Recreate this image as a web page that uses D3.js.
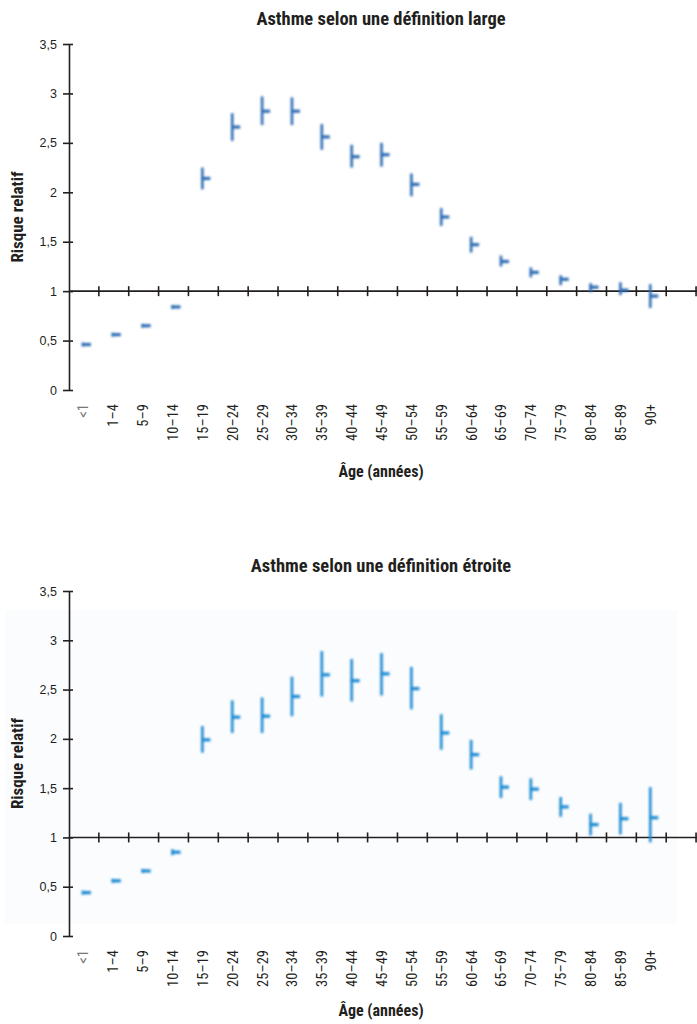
<!DOCTYPE html>
<html>
<head>
<meta charset="utf-8">
<script src="https://cdn.jsdelivr.net/npm/d3@7"></script>
<style>
  body { margin: 0; background: #fff; }
  svg { display: block; font-family: "Liberation Sans Narrow", "Arial Narrow", "Roboto Condensed", sans-serif; }
</style>
</head>
<body>
<svg id="chart" width="697" height="1024"></svg>
<script>
// age groups on the x axis
var ageGroups = ["<1", "1–4", "5–9", "10–14", "15–19", "20–24", "25–29", "30–34", "35–39", "40–44",
	"45–49", "50–54", "55–59", "60–64", "65–69", "70–74", "75–79", "80–84", "85–89", "90+"];

// broad definition : relative risk and 95% CI
var largeEst  = [0.46, 0.56, 0.65, 0.84, 2.14, 2.66, 2.82, 2.82, 2.56, 2.36, 2.38, 2.08, 1.75, 1.47, 1.30, 1.19, 1.12, 1.04, 1.01, 0.95];
var largeLow  = [0.44, 0.54, 0.63, 0.82, 2.03, 2.52, 2.68, 2.68, 2.43, 2.25, 2.26, 1.96, 1.66, 1.39, 1.25, 1.14, 1.06, 0.99, 0.96, 0.83];
var largeHigh = [0.48, 0.58, 0.67, 0.86, 2.25, 2.80, 2.97, 2.96, 2.69, 2.48, 2.50, 2.19, 1.84, 1.55, 1.36, 1.24, 1.16, 1.08, 1.09, 1.07];

// narrow definition
var narrowEst  = [0.44, 0.56, 0.66, 0.85, 1.99, 2.22, 2.23, 2.43, 2.65, 2.59, 2.66, 2.51, 2.06, 1.84, 1.51, 1.49, 1.31, 1.13, 1.19, 1.20];
var narrowLow  = [0.42, 0.54, 0.64, 0.82, 1.86, 2.06, 2.06, 2.23, 2.43, 2.38, 2.44, 2.30, 1.89, 1.69, 1.40, 1.38, 1.21, 1.02, 1.03, 0.95];
var narrowHigh = [0.46, 0.58, 0.68, 0.88, 2.13, 2.39, 2.42, 2.63, 2.89, 2.81, 2.87, 2.73, 2.25, 1.99, 1.62, 1.60, 1.41, 1.24, 1.35, 1.51];

var yTicks = [0, 0.5, 1, 1.5, 2, 2.5, 3, 3.5];

var svg = d3.select("#chart");
var W = 697;

var defs = svg.append("defs");
defs.append("filter")
	.attr("id", "soft")
	.attr("x", "-50%").attr("y", "-50%").attr("width", "200%").attr("height", "200%")
	.append("feGaussianBlur")
		.attr("stdDeviation", 0.8);

var frmt = function(d) { return String(d).replace(".", ","); };

function panel(opt) {
	var x = d3.scaleBand()
		.domain(ageGroups)
		.range([69, 69 + ageGroups.length * 29.86]);

	var y = d3.scaleLinear()
		.domain([0, 3.5])
		.range([opt.bottom, opt.top]);

	var g = svg.append("g");

	if (opt.bg) {
		g.append("rect")
			.attr("x", 5).attr("y", opt.bg[0])
			.attr("width", 672).attr("height", opt.bg[1] - opt.bg[0])
			.attr("fill", "#fbfcfe");
	}

	g.append("text")
		.attr("x", 381).attr("y", opt.top - 19)
		.attr("text-anchor", "middle")
		.attr("font-weight", "bold")
		.attr("font-size", 18.5)
		.attr("fill", "#231f20")
		.text(opt.title);

	// y axis
	var yAxis = g.append("g")
		.attr("transform", "translate(69,0)")
		.call(d3.axisLeft(y).tickValues(yTicks).tickFormat(frmt).tickSize(6).tickSizeOuter(0).tickPadding(6));
	yAxis.select(".domain").attr("stroke", "#231f20").attr("stroke-width", 1.6);
	yAxis.selectAll(".tick line").attr("x1", 4).attr("stroke", "#231f20").attr("stroke-width", 1.6);
	yAxis.selectAll(".tick text")
		.attr("font-size", 12.5)
		.attr("font-family", "inherit")
		.attr("fill", "#231f20");

	// horizontal reference line at RR = 1 with ticks between bands
	var y1 = y(1);
	g.append("line")
		.attr("x1", 69).attr("x2", W)
		.attr("y1", y1).attr("y2", y1)
		.attr("stroke", "#231f20").attr("stroke-width", 1.6);
	var step = x.step();
	var bounds = d3.range(1, ageGroups.length + 2).map(function(i) { return x.range()[0] + i * step; });
	g.selectAll(".sep")
		.data(bounds)
		.enter().append("line")
			.attr("class", "sep")
			.attr("x1", function(d) { return d; })
			.attr("x2", function(d) { return d; })
			.attr("y1", y1 - 5).attr("y2", y1 + 5)
			.attr("stroke", "#231f20").attr("stroke-width", 1.6);

	// category labels
	g.selectAll(".lab")
		.data(ageGroups)
		.enter().append("text")
			.attr("class", "lab")
			.attr("transform", function(d) {
				return "translate(" + (x(d) + step / 2 + 4.5) + "," + (opt.bottom + 14) + ") rotate(-90)";
			})
			.attr("text-anchor", "end")
			.attr("font-size", 14.5)
			.attr("fill", function(d, i) { return i == 0 ? "#77777a" : "#231f20"; })
			.text(function(d) { return d; });

	g.append("text")
		.attr("transform", "translate(23," + ((opt.top + opt.bottom) / 2) + ") rotate(-90)")
		.attr("text-anchor", "middle")
		.attr("font-weight", "bold")
		.attr("font-size", 17)
		.attr("fill", "#231f20")
		.text("Risque relatif");

	g.append("text")
		.attr("x", 381).attr("y", opt.xlab)
		.attr("text-anchor", "middle")
		.attr("font-weight", "bold")
		.attr("font-size", 16)
		.attr("fill", "#231f20")
		.text("Âge (années)");

	// confidence interval + point estimate marks
	var rows = ageGroups.map(function(a, i) {
		return { age: a, est: opt.est[i], lo: opt.lo[i], hi: opt.hi[i] };
	});
	var marks = g.append("g").attr("filter", "url(#soft)");
	var m = marks.selectAll(".mark")
		.data(rows)
		.enter().append("g")
			.attr("class", "mark");
	m.append("line")
		.attr("x1", function(d) { return x(d.age) + step / 2 - 1; })
		.attr("x2", function(d) { return x(d.age) + step / 2 - 1; })
		.attr("y1", function(d) { return y(d.hi); })
		.attr("y2", function(d) { return y(d.lo); })
		.attr("stroke", opt.color).attr("stroke-width", 2.6);
	m.append("line")
		.attr("x1", function(d) { return x(d.age) + step / 2 - 2; })
		.attr("x2", function(d) { return x(d.age) + step / 2 + 7; })
		.attr("y1", function(d) { return y(d.est); })
		.attr("y2", function(d) { return y(d.est); })
		.attr("stroke", opt.color).attr("stroke-width", 3.2);
}

panel({
	title: "Asthme selon une définition large",
	top: 44, bottom: 390, xlab: 477,
	est: largeEst, lo: largeLow, hi: largeHigh,
	color: "#2f6db4"
});

panel({
	title: "Asthme selon une définition étroite",
	top: 591, bottom: 936, xlab: 1016,
	est: narrowEst, lo: narrowLow, hi: narrowHigh,
	color: "#1c8ad2",
	bg: [610, 924]
});
</script>
</body>
</html>
